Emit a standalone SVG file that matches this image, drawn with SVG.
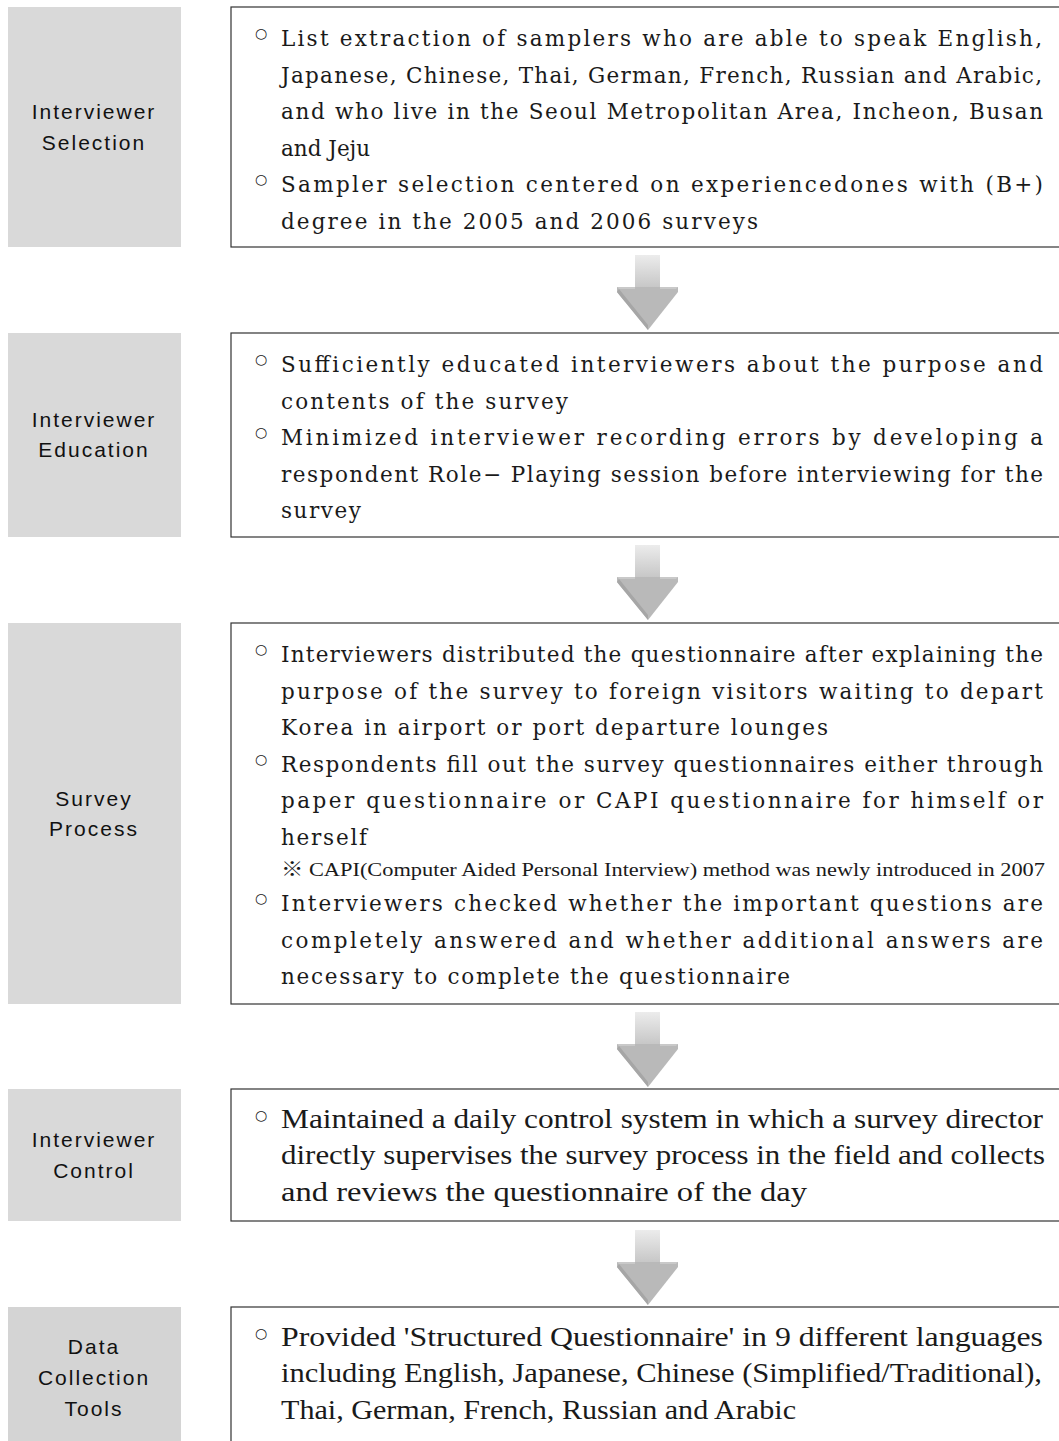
<svg xmlns="http://www.w3.org/2000/svg" width="1059" height="1441" viewBox="0 0 1059 1441">
<style>
.lab{fill:#d9d9d9}
.box{fill:#ffffff;stroke:#333333;stroke-width:1.2}
.lt{font-family:"Liberation Sans",Arial,sans-serif;font-size:21px;letter-spacing:2px;fill:#111;text-anchor:middle}
.t{font-family:"DejaVu Serif","Liberation Serif",serif;font-size:21.5px;fill:#1a1a1a}
.c{font-family:"Liberation Serif","Times New Roman",serif;font-size:27.5px;fill:#1a1a1a}
.n{font-family:"Liberation Serif","Noto Sans CJK KR",serif;font-size:19px;fill:#1a1a1a}
.b{font-family:"DejaVu Sans","Noto Sans CJK KR",sans-serif;font-size:14px;fill:#222;text-anchor:middle}
</style>
<defs>
<linearGradient id="sg" x1="0" y1="0" x2="0" y2="1">
<stop offset="0" stop-color="#ececec"/>
<stop offset="1" stop-color="#c6c6c6"/>
</linearGradient>
<g id="arrow">
<rect x="-13" y="0" width="25" height="33" fill="url(#sg)"/>
<polygon points="-31,32 30,32 30,37 0,75 -31,37" fill="#b9b9b9"/>
<polygon points="-31,37 0,75 0,70 -29,34" fill="#a6a6a6"/>
<polygon points="-31,32 -13,32 -13,34 -29,34" fill="#c9c9c9"/>
<polygon points="12,32 30,32 28,34 12,34" fill="#c9c9c9"/>
</g>
</defs>
<rect width="1059" height="1441" fill="#ffffff"/>

<g id="connectors">
<use href="#arrow" transform="translate(648,255)"/>
<use href="#arrow" transform="translate(648,545)"/>
<use href="#arrow" transform="translate(648,1012)"/>
<use href="#arrow" transform="translate(648,1230)"/>
</g>

<g id="node-interviewer-selection">
<rect class="lab" x="8" y="7" width="173" height="240"/>
<text class="lt" x="94" y="119">Interviewer</text>
<text class="lt" x="94" y="150">Selection</text>
<rect class="box" x="231" y="7" width="840" height="240"/>
<text class="b" x="261" y="38">○</text>
<text class="t" x="281" y="46" textLength="761" lengthAdjust="spacing">List extraction of samplers who are able to speak English,</text>
<text class="t" x="281" y="83" textLength="761" lengthAdjust="spacing">Japanese, Chinese, Thai, German, French, Russian and Arabic,</text>
<text class="t" x="281" y="119" textLength="762" lengthAdjust="spacing">and who live in the Seoul Metropolitan Area, Incheon, Busan</text>
<text class="t" x="281" y="156">and Jeju</text>
<text class="b" x="261" y="184">○</text>
<text class="t" x="281" y="192" textLength="762" lengthAdjust="spacing">Sampler selection centered on experiencedones with (B+)</text>
<text class="t" x="281" y="229" textLength="477" lengthAdjust="spacing">degree in the 2005 and 2006 surveys</text>
</g>

<g id="node-interviewer-education">
<rect class="lab" x="8" y="333" width="173" height="204"/>
<text class="lt" x="94" y="427">Interviewer</text>
<text class="lt" x="94" y="457">Education</text>
<rect class="box" x="231" y="333" width="840" height="204"/>
<text class="b" x="261" y="364">○</text>
<text class="t" x="281" y="372" textLength="762" lengthAdjust="spacing">Sufficiently educated interviewers about the purpose and</text>
<text class="t" x="281" y="409" textLength="287" lengthAdjust="spacing">contents of the survey</text>
<text class="b" x="261" y="437">○</text>
<text class="t" x="281" y="445" textLength="762" lengthAdjust="spacing">Minimized interviewer recording errors by developing a</text>
<text class="t" x="281" y="482" textLength="762" lengthAdjust="spacing">respondent Role− Playing session before interviewing for the</text>
<text class="t" x="281" y="518" textLength="80" lengthAdjust="spacing">survey</text>
</g>

<g id="node-survey-process">
<rect class="lab" x="8" y="623" width="173" height="381"/>
<text class="lt" x="94" y="806">Survey</text>
<text class="lt" x="94" y="836">Process</text>
<rect class="box" x="231" y="623" width="840" height="381"/>
<text class="b" x="261" y="654">○</text>
<text class="t" x="281" y="662" textLength="762" lengthAdjust="spacing">Interviewers distributed the questionnaire after explaining the</text>
<text class="t" x="281" y="699" textLength="762" lengthAdjust="spacing">purpose of the survey to foreign visitors waiting to depart</text>
<text class="t" x="281" y="735" textLength="547" lengthAdjust="spacing">Korea in airport or port departure lounges</text>
<text class="b" x="261" y="764">○</text>
<text class="t" x="281" y="772" textLength="762" lengthAdjust="spacing">Respondents fill out the survey questionnaires either through</text>
<text class="t" x="281" y="808" textLength="762" lengthAdjust="spacing">paper questionnaire or CAPI questionnaire for himself or</text>
<text class="t" x="281" y="845" textLength="86" lengthAdjust="spacing">herself</text>
<text class="n" x="281" y="876" textLength="764" lengthAdjust="spacingAndGlyphs">※ CAPI(Computer Aided Personal Interview) method was newly introduced in 2007</text>
<text class="b" x="261" y="903">○</text>
<text class="t" x="281" y="911" textLength="762" lengthAdjust="spacing">Interviewers checked whether the important questions are</text>
<text class="t" x="281" y="948" textLength="762" lengthAdjust="spacing">completely answered and whether additional answers are</text>
<text class="t" x="281" y="984" textLength="509" lengthAdjust="spacing">necessary to complete the questionnaire</text>
</g>

<g id="node-interviewer-control">
<rect class="lab" x="8" y="1089" width="173" height="132"/>
<text class="lt" x="94" y="1147">Interviewer</text>
<text class="lt" x="94" y="1178">Control</text>
<rect class="box" x="231" y="1089" width="840" height="132"/>
<text class="b" x="261" y="1120">○</text>
<text class="c" x="281" y="1128" textLength="762" lengthAdjust="spacingAndGlyphs">Maintained a daily control system in which a survey director</text>
<text class="c" x="281" y="1164" textLength="764" lengthAdjust="spacingAndGlyphs">directly supervises the survey process in the field and collects</text>
<text class="c" x="281" y="1201" textLength="526" lengthAdjust="spacingAndGlyphs">and reviews the questionnaire of the day</text>
</g>

<g id="node-data-collection-tools">
<rect x="8" y="1307" width="173" height="140" fill="#d4d4d4"/>
<text class="lt" x="94" y="1354">Data</text>
<text class="lt" x="94" y="1385">Collection</text>
<text class="lt" x="94" y="1416">Tools</text>
<rect class="box" x="231" y="1307" width="840" height="150"/>
<text class="b" x="261" y="1338">○</text>
<text class="c" x="281" y="1346" textLength="762" lengthAdjust="spacingAndGlyphs">Provided 'Structured Questionnaire' in 9 different languages</text>
<text class="c" x="281" y="1382" textLength="761" lengthAdjust="spacingAndGlyphs">including English, Japanese, Chinese (Simplified/Traditional),</text>
<text class="c" x="281" y="1419" textLength="515" lengthAdjust="spacingAndGlyphs">Thai, German, French, Russian and Arabic</text>
</g>
</svg>
